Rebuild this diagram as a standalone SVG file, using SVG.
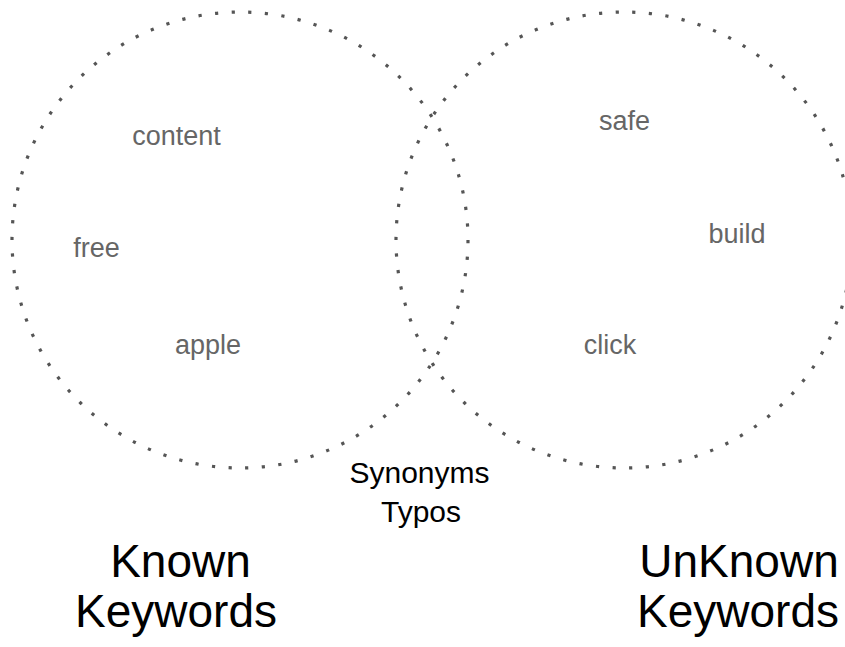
<svg xmlns="http://www.w3.org/2000/svg" width="845" height="647" viewBox="0 0 845 647">
<style>
.ring{fill:none;stroke:#555;stroke-width:3.2;stroke-dasharray:3.2 13.45}
.kw{font-family:"Liberation Sans",Arial,sans-serif;font-size:27px;fill:#666;text-anchor:middle}
.mid{font-family:"Liberation Sans",Arial,sans-serif;font-size:30px;fill:#000;text-anchor:middle}
.big{font-family:"Liberation Sans",Arial,sans-serif;font-size:46px;fill:#000;text-anchor:middle}
</style>
<rect width="845" height="647" fill="#fff"/>
<g id="connectors"></g>
<g id="known">
<circle class="ring" cx="240" cy="240" r="228"/>
<text class="kw" x="176.5" y="145">content</text>
<text class="kw" x="96.5" y="257">free</text>
<text class="kw" x="208" y="354">apple</text>
</g>
<g id="unknown">
<circle class="ring" cx="624" cy="240" r="228"/>
<text class="kw" x="624.5" y="130">safe</text>
<text class="kw" x="737" y="243">build</text>
<text class="kw" x="610" y="354">click</text>
</g>
<g id="overlap">
<text class="mid" x="419.5" y="483">Synonyms</text>
<text class="mid" x="421" y="522">Typos</text>
</g>
<g id="known-label">
<text class="big" x="180.5" y="577">Known</text>
<text class="big" x="176" y="627">Keywords</text>
</g>
<g id="unknown-label">
<text class="big" x="739" y="577">UnKnown</text>
<text class="big" x="738" y="627">Keywords</text>
</g>
</svg>
